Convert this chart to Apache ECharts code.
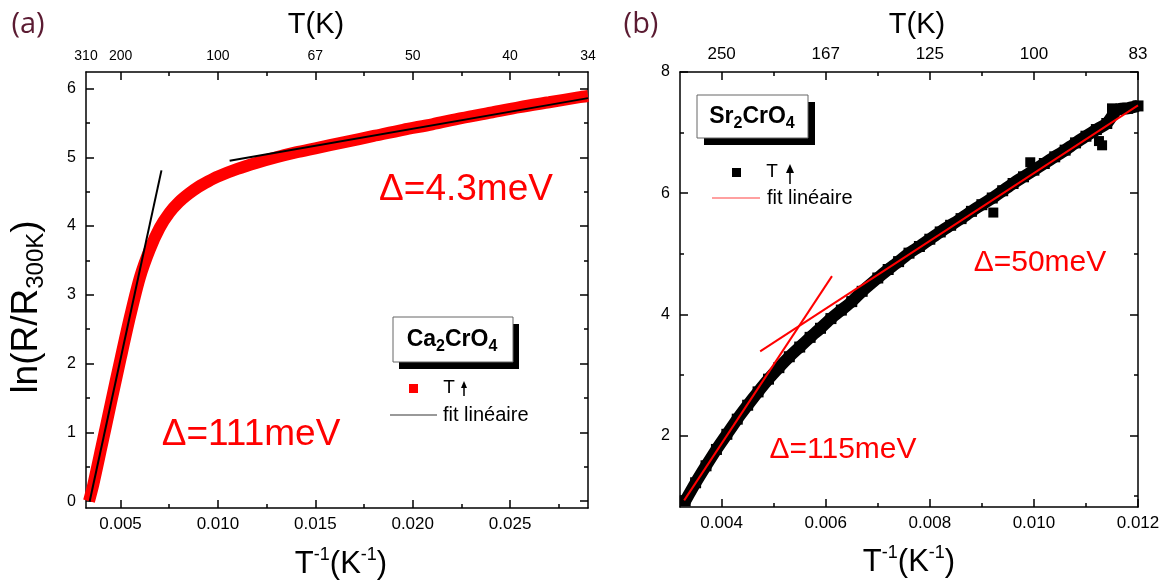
<!DOCTYPE html>
<html><head><meta charset="utf-8">
<script src="https://cdn.jsdelivr.net/npm/echarts@6/dist/echarts.min.js"></script>
<style>html,body{margin:0;padding:0;background:#fff}#c{width:1168px;height:585px}</style>
</head><body><div id="c"></div>
<script>
// ---------------- data ----------------
const leftXRange = [1 / 310, 0.029];
const leftYRange = [-0.1, 6.24];
const rightXRange = [0.0032, 0.012];
const rightYRange = [0.82, 8];

const leftXMajor = [0.005, 0.010, 0.015, 0.020, 0.025];
const leftXMinor = [0.0075, 0.0125, 0.0175, 0.0225, 0.0275];
const leftTopLabelPos = [1 / 310, 0.005, 0.010, 0.015, 0.020, 0.025, 0.029];
const leftYMajor = [0, 1, 2, 3, 4, 5, 6];
const leftYMinor = [0.5, 1.5, 2.5, 3.5, 4.5, 5.5];

const rightXMajor = [0.004, 0.006, 0.008, 0.010, 0.012];
const rightXMinor = [0.005, 0.007, 0.009, 0.011];
const rightYMajor = [2, 4, 6, 8];
const rightYMinor = [1, 3, 5, 7];

// Ca2CrO4 : ln(R/R300K) vs 1/T  (T increasing run)
const caData = [
  [0.00338, 0.00], [0.00360, 0.24], [0.00400, 0.76], [0.00450, 1.42], [0.00500, 2.07],
  [0.00550, 2.70], [0.00600, 3.26], [0.00650, 3.66], [0.00700, 3.97], [0.00750, 4.19],
  [0.00800, 4.35], [0.00850, 4.47], [0.00900, 4.57], [0.00950, 4.65], [0.01000, 4.72],
  [0.01100, 4.83], [0.01200, 4.92], [0.01300, 5.00], [0.01400, 5.07], [0.01500, 5.13],
  [0.01650, 5.22], [0.01800, 5.31], [0.01950, 5.40], [0.02100, 5.48], [0.02250, 5.57],
  [0.02400, 5.65], [0.02550, 5.73], [0.02700, 5.80], [0.02850, 5.87], [0.02900, 5.89]
];
const caFitHighT = [[0.00341, -0.01], [0.00710, 4.81]];   // Δ = 111 meV
const caFitLowT = [[0.01060, 4.95], [0.02900, 5.86]];     // Δ = 4.3 meV

// Sr2CrO4
const srData = [
  [0.00330, 0.92], [0.00350, 1.22], [0.00370, 1.50], [0.00390, 1.77], [0.00410, 2.02],
  [0.00430, 2.27], [0.00450, 2.50], [0.00470, 2.72], [0.00490, 2.93], [0.00510, 3.12],
  [0.00530, 3.30], [0.00550, 3.46], [0.00570, 3.62], [0.00590, 3.77], [0.00610, 3.93],
  [0.00630, 4.07], [0.00650, 4.21], [0.00670, 4.38], [0.00700, 4.60], [0.00720, 4.74],
  [0.00740, 4.87], [0.00760, 5.01], [0.00780, 5.12], [0.00800, 5.24], [0.00820, 5.36],
  [0.00840, 5.47], [0.00860, 5.58], [0.00880, 5.70], [0.00900, 5.81], [0.00920, 5.92],
  [0.00940, 6.04], [0.00960, 6.16], [0.00980, 6.27], [0.01000, 6.38], [0.01020, 6.49],
  [0.01040, 6.60], [0.01060, 6.71], [0.01080, 6.83], [0.01100, 6.94], [0.01120, 7.05],
  [0.01140, 7.15], [0.01160, 7.38], [0.01180, 7.40], [0.01200, 7.44]
];
const srOutliers = [[0.00922, 5.68], [0.00993, 6.51], [0.01131, 6.79], [0.01125, 6.86], [0.01150, 7.40]];
const srFitHighT = [[0.00328, 0.93], [0.00612, 4.63]];   // Δ = 115 meV
const srFitLowT = [[0.00474, 3.39], [0.01200, 7.45]];     // Δ = 50 meV

// ---------------- chart ----------------
const FONT = 'Liberation Sans';
function axis(gridIndex, position, range, tickVals, tickLen, labelVals, fmt, fontSize, margin, showLine) {
  return {
    type: 'value', gridIndex, position, min: range[0], max: range[1],
    axisLine: { show: showLine, onZero: false, lineStyle: { color: '#000', width: 1.5 } },
    axisTick: { show: true, inside: true, length: tickLen, customValues: tickVals, lineStyle: { color: '#000', width: 1.5 } },
    axisLabel: labelVals ? { show: true, customValues: labelVals, formatter: fmt, fontSize, margin, color: '#000',
      fontFamily: FONT, showMinLabel: true, showMaxLabel: true, hideOverlap: false } : { show: false },
    splitLine: { show: false }, minorTick: { show: false }, minorSplitLine: { show: false }
  };
}
const inv = v => String(Math.round(1 / v));
const fx3 = v => v.toFixed(3);
const fint = v => String(v);

const xAxis = [
  axis(0, 'bottom', leftXRange, leftXMajor, 8, leftXMajor, fx3, 17, 8, true),
  axis(0, 'top', leftXRange, leftXMajor, 8, leftTopLabelPos, inv, 14, 9, true),
  axis(0, 'bottom', leftXRange, leftXMinor, 4, null, null, 0, 0, false),
  axis(0, 'top', leftXRange, leftXMinor, 4, null, null, 0, 0, false),
  axis(1, 'bottom', rightXRange, rightXMajor, 8, rightXMajor, fx3, 17, 8, true),
  axis(1, 'top', rightXRange, rightXMajor, 8, rightXMajor, inv, 17, 9, true),
  axis(1, 'bottom', rightXRange, rightXMinor, 4, null, null, 0, 0, false),
  axis(1, 'top', rightXRange, rightXMinor, 4, null, null, 0, 0, false)
];
const yAxis = [
  axis(0, 'left', leftYRange, leftYMajor, 8, leftYMajor, fint, 16, 10, true),
  axis(0, 'right', leftYRange, leftYMajor, 8, null, null, 0, 0, true),
  axis(0, 'left', leftYRange, leftYMinor, 4, null, null, 0, 0, false),
  axis(0, 'right', leftYRange, leftYMinor, 4, null, null, 0, 0, false),
  axis(1, 'left', rightYRange, rightYMajor, 8, rightYMajor, fint, 16, 10, true),
  axis(1, 'right', rightYRange, rightYMajor, 8, null, null, 0, 0, true),
  axis(1, 'left', rightYRange, rightYMinor, 4, null, null, 0, 0, false),
  axis(1, 'right', rightYRange, rightYMinor, 4, null, null, 0, 0, false)
];

const series = [
  { type: 'line', xAxisIndex: 0, yAxisIndex: 0, data: caData, smooth: 0.3, symbol: 'none',
    lineStyle: { color: '#ff0000', width: 12 }, z: 2 },
  { type: 'line', xAxisIndex: 0, yAxisIndex: 0, data: caFitHighT, symbol: 'none',
    lineStyle: { color: '#000', width: 2 }, z: 3 },
  { type: 'line', xAxisIndex: 0, yAxisIndex: 0, data: caFitLowT, symbol: 'none',
    lineStyle: { color: '#000', width: 2 }, z: 3 },
  { type: 'line', xAxisIndex: 4, yAxisIndex: 4, data: srData, smooth: 0.2, symbol: 'rect', symbolSize: 11,
    showAllSymbol: true, itemStyle: { color: '#000', borderWidth: 0 }, lineStyle: { color: '#000', width: 12 }, z: 2 },
  { type: 'scatter', xAxisIndex: 4, yAxisIndex: 4, data: srOutliers, symbol: 'rect', symbolSize: 10,
    itemStyle: { color: '#000', opacity: 1, borderWidth: 0 }, z: 2 },
  { type: 'line', xAxisIndex: 4, yAxisIndex: 4, data: srFitHighT, symbol: 'none',
    lineStyle: { color: '#ff0000', width: 2 }, z: 3 },
  { type: 'line', xAxisIndex: 4, yAxisIndex: 4, data: srFitLowT, symbol: 'none',
    lineStyle: { color: '#ff0000', width: 2 }, z: 3 }
];

function txt(x, y, text, size, opts) {
  return { type: 'text', x, y, z: 100, style: Object.assign({
    text, fontSize: size, fontFamily: FONT, fill: '#000', align: 'center', verticalAlign: 'middle'
  }, opts || {}) };
}
function richTxt(x, y, text, rich, rotation) {
  return { type: 'text', x, y, rotation: rotation || 0, z: 100,
    style: { text, rich, align: 'center', verticalAlign: 'middle', fontFamily: FONT, fill: '#000' } };
}
function arrow(cx, yTop, yBot, hw, hh) {
  return [
    { type: 'line', z: 100, shape: { x1: cx, y1: yBot, x2: cx, y2: yTop + hh - 1 }, style: { stroke: '#000', lineWidth: 1.5 } },
    { type: 'polygon', z: 100, shape: { points: [[cx, yTop], [cx - hw, yTop + hh], [cx + hw, yTop + hh]] }, style: { fill: '#000' } }
  ];
}
const supRich = (main, sup) => ({
  a: { fontSize: main, fontFamily: FONT, fill: '#000', lineHeight: main + 4 },
  s: { fontSize: sup, fontFamily: FONT, fill: '#000', lineHeight: sup, verticalAlign: 'top' }
});
const subRich = (main, sub, bold) => ({
  a: { fontSize: main, fontFamily: FONT, fill: '#000', fontWeight: bold ? 'bold' : 'normal', lineHeight: main + 6 },
  b: { fontSize: sub, fontFamily: FONT, fill: '#000', fontWeight: bold ? 'bold' : 'normal', lineHeight: sub, verticalAlign: 'bottom' }
});

const graphics = [
  // panel letters
  txt(28, 25, '(a)', 29, { fill: '#5b1b32', fontFamily: 'Open Sans' }),
  txt(641, 25, '(b)', 29, { fill: '#5b1b32', fontFamily: 'Open Sans' }),
  // top titles
  txt(316, 25, 'T(K)', 29),
  txt(917, 25, 'T(K)', 29),
  // bottom titles
  richTxt(341, 564, '{a|T}{s|-1}{a|(K}{s|-1}{a|)}', supRich(31, 18)),
  richTxt(909, 562, '{a|T}{s|-1}{a|(K}{s|-1}{a|)}', supRich(31, 18)),
  // y title (left panel)
  richTxt(27, 307, '{a|ln(R/R}{b|300K}{a|)}', subRich(37, 24, false), Math.PI / 2),
  // Δ annotations
  txt(466, 190, 'Δ=4.3meV', 37, { fill: '#ff0000' }),
  txt(251, 435, 'Δ=111meV', 37, { fill: '#ff0000' }),
  txt(1040, 263, 'Δ=50meV', 30, { fill: '#ff0000' }),
  txt(843, 450, 'Δ=115meV', 30, { fill: '#ff0000' }),
  // left legend box
  { type: 'rect', z: 99, shape: { x: 399, y: 324, width: 120, height: 45 }, style: { fill: '#000' } },
  { type: 'rect', z: 99, shape: { x: 393, y: 317, width: 120, height: 45 }, style: { fill: '#fff', stroke: '#666', lineWidth: 1 } },
  richTxt(452, 340, '{a|Ca}{b|2}{a|CrO}{b|4}', subRich(23, 16, true)),
  { type: 'rect', z: 100, shape: { x: 409, y: 384, width: 9, height: 9 }, style: { fill: '#ff0000' } },
  txt(449, 388, 'T', 19),
  ...arrow(464, 381, 396, 3, 7),
  { type: 'line', z: 100, shape: { x1: 390, y1: 415, x2: 437, y2: 415 }, style: { stroke: '#777', lineWidth: 1.5 } },
  txt(443, 415, 'fit linéaire', 20, { align: 'left' }),
  // right legend box
  { type: 'rect', z: 99, shape: { x: 704, y: 102, width: 111, height: 43 }, style: { fill: '#000' } },
  { type: 'rect', z: 99, shape: { x: 697, y: 95, width: 111, height: 43 }, style: { fill: '#fff', stroke: '#666', lineWidth: 1 } },
  richTxt(752, 117, '{a|Sr}{b|2}{a|CrO}{b|4}', subRich(23, 16, true)),
  { type: 'rect', z: 100, shape: { x: 732, y: 168, width: 9, height: 9 }, style: { fill: '#000' } },
  txt(772, 172, 'T', 19),
  ...arrow(790, 164, 184, 4, 9),
  { type: 'line', z: 100, shape: { x1: 712, y1: 198, x2: 760, y2: 198 }, style: { stroke: '#ff8080', lineWidth: 1.5 } },
  txt(767, 198, 'fit linéaire', 20, { align: 'left' })
];

const chart = echarts.init(document.getElementById('c'), null, { renderer: 'canvas' });
chart.setOption({
  animation: false,
  backgroundColor: '#fff',
  grid: [
    { left: 86, top: 72, width: 502, height: 436 },
    { left: 680, top: 72, width: 458, height: 435 }
  ],
  xAxis, yAxis, series,
  graphic: { elements: graphics }
});
</script></body></html>
